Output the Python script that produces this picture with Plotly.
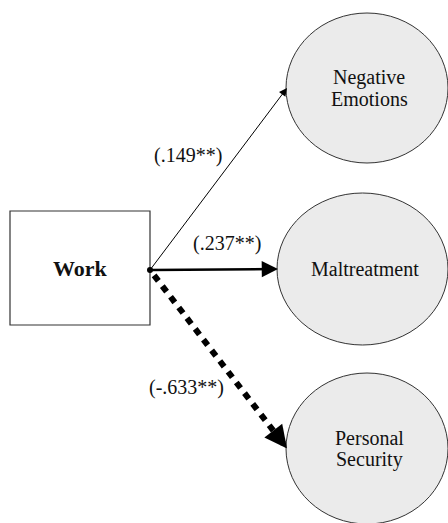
import plotly.graph_objects as go

# path model: Work -> three outcomes
predictor = "Work"
outcomes = ["Negative<br>Emotions", "Maltreatment", "Personal<br>Security"]
coefs = [0.149, 0.237, -0.633]
stars = ["**", "**", "**"]

# diagram layout (pixel space, y grows downward)
box = dict(x0=10, x1=150, y0=211, y1=325)
origin = (150, 270)
ellipses = [
    dict(x0=286, x1=448, y0=13, y1=163),
    dict(x0=277, x1=448, y0=193, y1=345),
    dict(x0=286, x1=448, y0=373, y1=524),
]
label_pos = [(188, 155), (227, 243), (186, 387)]
line_w = [1, 2.5, 6]
line_dash = ["solid", "solid", "7px,6.5px"]
head_size = [1.6, 1.3, 0.75]

SERIF = "Liberation Serif, Times New Roman, serif"
LINE_GAP = 22


def fmt(c, s):
    t = f"{c:.3f}".replace("0.", ".", 1)
    return f"({t}{s})"


fig = go.Figure()

fig.add_shape(type="rect", **box, line=dict(color="#333", width=1.2),
              fillcolor="white", layer="below")
for e in ellipses:
    fig.add_shape(type="circle", **e, line=dict(color="#333", width=1),
                  fillcolor="#ebebeb", layer="below")

fig.add_annotation(x=(box["x0"] + box["x1"]) / 2, y=(box["y0"] + box["y1"]) / 2,
                   text="<b>" + predictor + "</b>", showarrow=False,
                   font=dict(family=SERIF, size=22, color="#111"))

for i, name in enumerate(outcomes):
    e = ellipses[i]
    cx = (e["x0"] + e["x1"]) / 2
    cy = (e["y0"] + e["y1"]) / 2
    end = (e["x0"] + 1, cy)

    # node text, one annotation per line to keep the leading tight
    parts = name.split("<br>")
    for k, p in enumerate(parts):
        yk = cy + (k - (len(parts) - 1) / 2) * LINE_GAP
        fig.add_annotation(x=cx + 2, y=yk, text=p, showarrow=False,
                           font=dict(family=SERIF, size=20, color="#111"))

    if line_dash[i] == "solid":
        fig.add_annotation(x=end[0], y=end[1], ax=origin[0], ay=origin[1],
                           xref="x", yref="y", axref="x", ayref="y", text="",
                           showarrow=True, arrowhead=2, arrowwidth=line_w[i],
                           arrowsize=head_size[i], arrowcolor="black", standoff=0)
    else:
        dx, dy = end[0] - origin[0], end[1] - origin[1]
        s, f = 0.03, 0.9
        fig.add_trace(go.Scatter(x=[origin[0] + dx * s, origin[0] + dx * f],
                                 y=[origin[1] + dy * s, origin[1] + dy * f],
                                 mode="lines", hoverinfo="skip",
                                 line=dict(color="black", width=line_w[i], dash=line_dash[i])))
        g = 0.93
        fig.add_annotation(x=end[0], y=end[1], ax=origin[0] + dx * g, ay=origin[1] + dy * g,
                           xref="x", yref="y", axref="x", ayref="y", text="",
                           showarrow=True, arrowhead=2, arrowwidth=line_w[i],
                           arrowsize=head_size[i], arrowcolor="black", standoff=0)

    lx, ly = label_pos[i]
    fig.add_annotation(x=lx, y=ly, text=fmt(coefs[i], stars[i]), showarrow=False,
                       font=dict(family=SERIF, size=20, color="#111"))

# small dot where the paths start
fig.add_trace(go.Scatter(x=[origin[0]], y=[origin[1]], mode="markers", hoverinfo="skip",
                         marker=dict(color="black", size=6)))

fig.update_xaxes(range=[0, 448], visible=False, fixedrange=True)
fig.update_yaxes(range=[523, 0], visible=False, fixedrange=True)
fig.update_layout(width=448, height=523, margin=dict(l=0, r=0, t=0, b=0),
                  paper_bgcolor="white", plot_bgcolor="white", showlegend=False)

# drop the default page margin so the figure sits at 0,0
fig.write_html("out.html", config={"displayModeBar": False},
               post_script="document.body.style.margin='0';")
